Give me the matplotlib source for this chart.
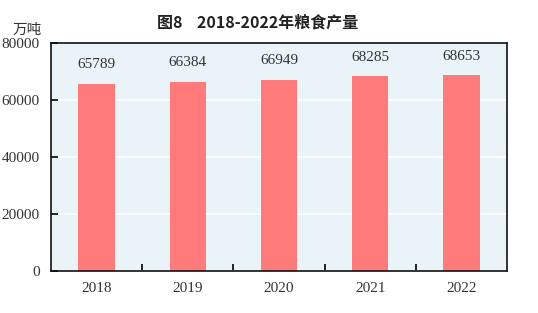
import matplotlib
matplotlib.use('Agg')
import matplotlib.pyplot as plt
import numpy as np

years = ['2018', '2019', '2020', '2021', '2022']
output = [65789, 66384, 66949, 68285, 68653]
yticks = [0, 20000, 40000, 60000, 80000]

cjk = ['Noto Sans CJK SC', 'DejaVu Sans']
serif = ['Liberation Serif', 'DejaVu Serif']

fig = plt.figure(figsize=(5.38, 3.13), dpi=100)
ax = fig.add_axes([51/538, 1 - 271/313, 456/538, 228/313])
ax.set_facecolor('#EAF4F8')

x = np.arange(len(years))
ax.bar(x, output, width=0.4, color='#FF7B7B', zorder=2)
for xi, v in zip(x, output):
    ax.text(xi, v + 4500, str(v), ha='center', va='bottom', fontsize=11, family=serif, color='#333333')

ax.set_xlim(-0.5, len(years) - 0.5)
ax.set_ylim(0, 80000)
ax.set_yticks(yticks)
ax.set_yticklabels([str(t) for t in yticks], family=serif, fontsize=11, color='#333333')
ax.yaxis.grid(True, color='white', linewidth=1.2, zorder=1)
ax.set_axisbelow(True)

ax.set_xticks(x)
ax.set_xticklabels(years, family=serif, fontsize=11, color='#333333')
ax.tick_params(axis='x', length=0, pad=8)
ax.set_xticks(np.arange(0.5, len(years) - 1, 1), minor=True)
ax.tick_params(axis='x', which='minor', direction='in', length=5, width=1.2)
ax.tick_params(axis='y', direction='in', length=5, width=1.2, pad=8)

for s in ax.spines.values():
    s.set_linewidth(1.2)
    s.set_color('#111111')

fig.text(258/538, 1 - 22/313, '图8    2018-2022年粮食产量', ha='center', va='center',
         fontsize=11.5, fontweight='bold', family=cjk, color='#222222')
fig.text(27/538, 1 - 30/313, '万吨', ha='center', va='center', fontsize=10.5, family=cjk, color='#333333')

fig.savefig('out.png', dpi=100)
